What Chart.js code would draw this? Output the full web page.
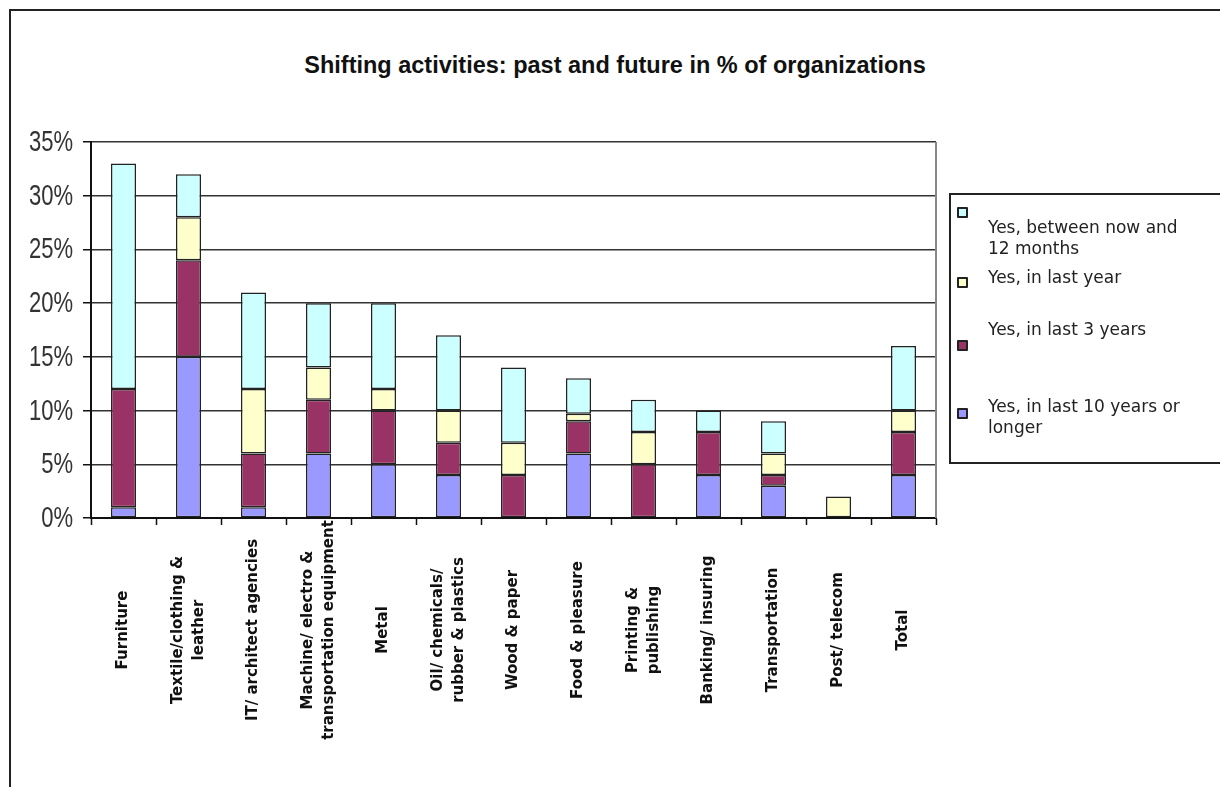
<!DOCTYPE html>
<html>
<head>
<meta charset="utf-8">
<title>Shifting activities</title>
<script src="https://cdn.jsdelivr.net/npm/chart.js@4.4.1/dist/chart.umd.min.js"></script>
<style>
  html, body { margin: 0; padding: 0; background: #fff; }
  #wrap { position: relative; width: 1220px; height: 787px; overflow: hidden; }
  #frame { position: absolute; left: 9px; top: 9px; width: 1230px; height: 800px; border-top: 2px solid #222; border-left: 2px solid #222; }
  #title { position: absolute; left: 10px; width: 1210px; top: 51px; text-align: center; font: bold 23.5px/28px 'Liberation Sans', Arial, sans-serif; color: #111; }
  #box { position: absolute; left: 0; top: 0; width: 1220px; height: 787px; }
  #legend { position: absolute; left: 949px; top: 193px; width: 290px; height: 267px; border: 2px solid #222; }
  .item { position: absolute; left: 37px; width: 205px; font: 17px/21px 'DejaVu Sans', sans-serif; color: #222; }
  .sw { position: absolute; left: 6px; width: 7px; height: 7px; border: 2px solid #222; border-radius: 1px; }
</style>
</head>
<body>
<div id="wrap">
  <div id="frame"></div>
  <div id="title">Shifting activities: past and future in % of organizations</div>
  <div id="box"><canvas id="chart"></canvas></div>
  <div id="legend"></div>
</div>
<script>
// 카테고리 (줄바꿈 포함)
const categories = [
  ['Furniture'],
  ['Textile/clothing &', 'leather'],
  ['IT/ architect agencies'],
  ['Machine/ electro &', 'transportation equipment'],
  ['Metal'],
  ['Oil/ chemicals/', 'rubber & plastics'],
  ['Wood & paper'],
  ['Food & pleasure'],
  ['Printing &', 'publishing'],
  ['Banking/ insuring'],
  ['Transportation'],
  ['Post/ telecom'],
  ['Total'],
];

// 시리즈 값 (%)
const last10Years = [1, 15, 1, 6, 5, 4, 0, 6, 0, 4, 3, 0, 4];
const last3Years  = [11, 9, 5, 5, 5, 3, 4, 3, 5, 4, 1, 0, 4];
const lastYear    = [0, 4, 6, 3, 2, 3, 3, 0.7, 3, 0, 2, 2, 2];
const next12Months = [21, 4, 9, 6, 8, 7, 7, 3.3, 3, 2, 3, 0, 6];

const seriesNames = [
  'Yes, in last 10 years or longer',
  'Yes, in last 3 years',
  'Yes, in last year',
  'Yes, between now and 12 months',
];
const seriesColors = ['#9999ff', '#993366', '#ffffcc', '#ccffff'];

// y축 눈금
const yTicks = [0, 5, 10, 15, 20, 25, 30, 35];

// 범례 (위에서부터 역순)
const legendRows = [
  { sw: 12, txt: 21.6 },
  { sw: 82, txt: 71.6 },
  { sw: 145, txt: 123.6 },
  { sw: 213, txt: 200.6 },
];
const legend = document.getElementById('legend');
[3, 2, 1, 0].forEach((s, k) => {
  const sw = document.createElement('div');
  sw.className = 'sw';
  sw.style.top = legendRows[k].sw + 'px';
  sw.style.background = seriesColors[s];
  legend.appendChild(sw);
  const t = document.createElement('div');
  t.className = 'item';
  t.style.top = legendRows[k].txt + 'px';
  t.textContent = seriesNames[s];
  legend.appendChild(t);
});

// x축 라벨 (세로, 가운데 정렬)
const xLabels = {
  id: 'xLabels',
  afterDraw(chart) {
    const { ctx, scales: { x } } = chart;
    ctx.save();
    ctx.font = 'bold 15px "DejaVu Sans"';
    ctx.fillStyle = '#111';
    ctx.textAlign = 'center';
    ctx.textBaseline = 'middle';
    categories.forEach((lines, i) => {
      ctx.save();
      ctx.translate(x.getPixelForValue(i), 630);
      ctx.rotate(-Math.PI / 2);
      lines.forEach((t, j) => ctx.fillText(t, 0, (j - (lines.length - 1) / 2) * 21));
      ctx.restore();
    });
    ctx.restore();
  },
};

// y축 라벨 (좁은 글꼴 흉내)
const yLabels = {
  id: 'yLabels',
  afterDraw(chart) {
    const { ctx, scales: { y }, chartArea } = chart;
    ctx.save();
    ctx.font = '29px "Liberation Sans"';
    ctx.fillStyle = '#333';
    ctx.textAlign = 'right';
    ctx.textBaseline = 'middle';
    yTicks.forEach((v) => {
      ctx.save();
      ctx.translate(chartArea.left - 18, y.getPixelForValue(v) + 1);
      ctx.scale(0.76, 1);
      ctx.fillText(v + '%', 0, 0);
      ctx.restore();
    });
    ctx.restore();
  },
};

// 플롯 오른쪽 테두리
const plotEdge = {
  id: 'plotEdge',
  beforeDatasetsDraw(chart) {
    const { ctx, chartArea: a } = chart;
    ctx.save();
    ctx.strokeStyle = '#888';
    ctx.lineWidth = 2;
    ctx.beginPath();
    ctx.moveTo(a.right, a.top);
    ctx.lineTo(a.right, a.bottom);
    ctx.stroke();
    ctx.restore();
  },
};

const seriesData = [last10Years, last3Years, lastYear, next12Months];

new Chart(document.getElementById('chart'), {
  type: 'bar',
  data: {
    labels: categories.map((l) => l.join(' ')),
    datasets: seriesData.map((d, i) => ({
      label: seriesNames[i],
      data: d,
      backgroundColor: seriesColors[i],
      borderColor: '#222',
      borderWidth: 1.5,
      borderSkipped: false,
      barPercentage: 0.385,
      categoryPercentage: 1,
    })),
  },
  options: {
    responsive: true, maintainAspectRatio: false, animation: false,
    layout: { padding: { left: 0, right: 284, top: 142, bottom: 262 } },
    plugins: { legend: { display: false }, tooltip: { enabled: false } },
    scales: {
      x: {
        stacked: true,
        ticks: { display: false },
        grid: { drawOnChartArea: false, drawTicks: true, tickLength: 7, tickColor: '#111', tickWidth: 1.5, offset: true },
        border: { color: '#111', width: 2 },
      },
      y: {
        stacked: true, min: yTicks[0], max: yTicks[yTicks.length - 1],
        ticks: { display: false, stepSize: 5 },
        grid: { color: '#333', lineWidth: 1.5, tickLength: 8, tickColor: '#111' },
        border: { color: '#111', width: 2 },
        afterFit: (s) => { s.width = 91; },
      },
    },
  },
  plugins: [xLabels, yLabels, plotEdge],
});
</script>
</body>
</html>
